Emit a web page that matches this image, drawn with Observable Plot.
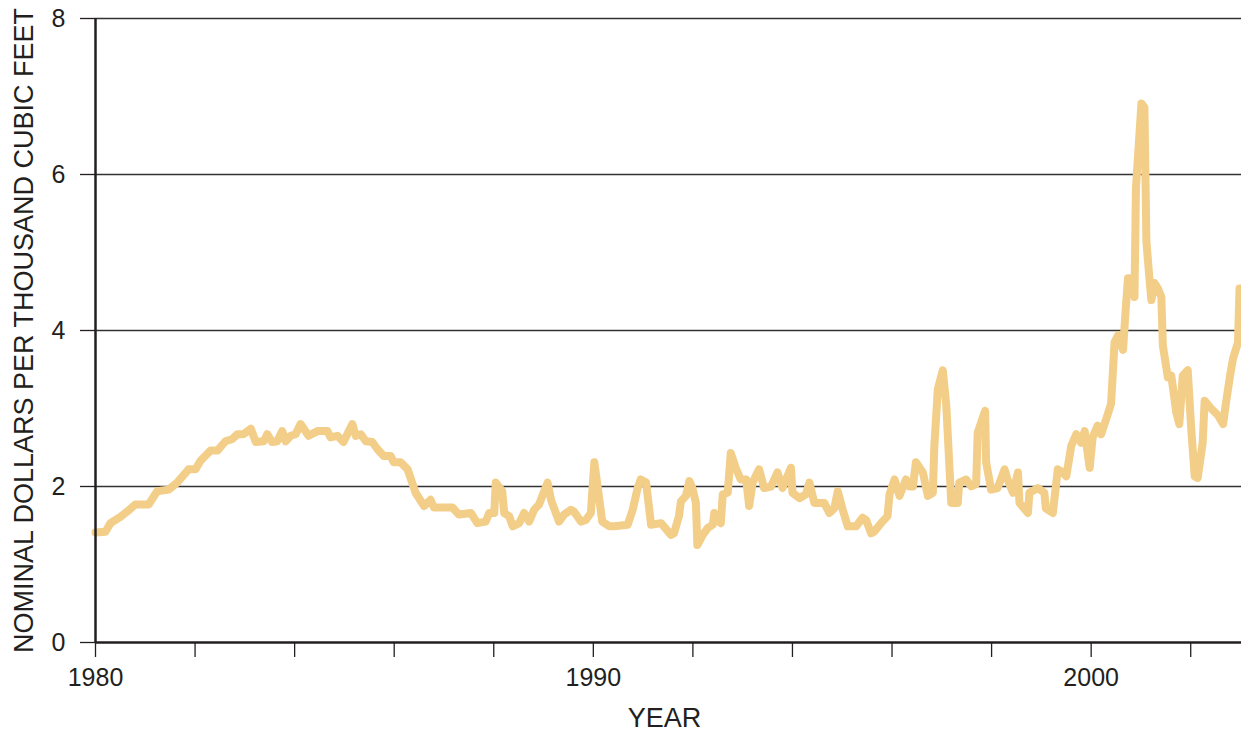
<!DOCTYPE html>
<html><head><meta charset="utf-8">
<script src="https://cdn.jsdelivr.net/npm/d3@7"></script>
<script src="https://cdn.jsdelivr.net/npm/@observablehq/plot@0.6"></script>
<style>html,body{margin:0;padding:0;background:#fff;} svg{display:block}</style>
</head><body><div id="chart"></div>
<script>
const years = [
1980.00,1980.20,1980.30,1980.50,1980.64,1980.80,1981.07,1981.24,1981.47,1981.64,1981.87,1982.01,1982.11,1982.31,1982.45,1982.61,1982.75,1982.85,1982.97,
1983.12,1983.22,1983.38,1983.45,1983.55,1983.65,1983.75,1983.82,1983.92,1984.02,1984.12,1984.28,1984.46,1984.66,1984.72,1984.86,1984.98,
1985.16,1985.23,1985.33,1985.43,1985.56,1985.66,1985.79,1985.93,1985.99,1986.13,1986.27,1986.43,1986.60,1986.73,1986.80,1987.17,1987.30,
1987.54,1987.67,1987.84,1987.91,1988.01,1988.04,1988.17,1988.21,1988.31,1988.38,1988.51,1988.61,1988.71,1988.81,1988.91,1989.08,1989.15,
1989.31,1989.41,1989.55,1989.61,1989.75,1989.85,1989.95,1990.02,1990.18,1990.32,1990.42,1990.69,1990.79,1990.89,1990.95,1991.06,1991.16,
1991.36,1991.56,1991.62,1991.72,1991.76,1991.86,1991.93,1991.99,1992.06,1992.09,1992.20,1992.30,1992.40,1992.43,1992.53,1992.56,1992.60,
1992.70,1992.76,1992.86,1992.96,1993.07,1993.13,1993.20,1993.33,1993.43,1993.57,1993.70,1993.80,1993.97,1994.00,1994.14,1994.27,1994.34,
1994.44,1994.64,1994.74,1994.84,1994.91,1995.01,1995.11,1995.28,1995.41,1995.48,1995.58,1995.64,1995.78,1995.91,1995.95,1996.05,1996.15,
1996.28,1996.35,1996.42,1996.48,1996.62,1996.72,1996.82,1996.85,1996.92,1997.02,1997.09,1997.19,1997.32,1997.35,1997.49,1997.59,1997.69,
1997.72,1997.79,1997.87,1997.89,1997.99,1998.12,1998.26,1998.32,1998.43,1998.53,1998.56,1998.73,1998.76,1998.93,1999.06,1999.09,1999.23,
1999.33,1999.43,1999.50,1999.60,1999.70,1999.80,1999.87,1999.97,2000.03,2000.13,2000.20,2000.30,2000.40,2000.47,2000.54,2000.64,2000.70,
2000.74,2000.80,2000.87,2000.90,2001.01,2001.07,2001.11,2001.17,2001.21,2001.27,2001.34,2001.41,2001.44,2001.54,2001.61,2001.71,2001.77,
2001.84,2001.94,2002.01,2002.08,2002.14,2002.24,2002.28,2002.41,2002.55,2002.65,2002.71,2002.79,2002.85,2002.95,2002.98
];
const prices = [
1.41,1.42,1.53,1.61,1.68,1.77,1.77,1.94,1.96,2.05,2.22,2.22,2.33,2.46,2.46,2.58,2.61,2.67,2.67,
2.74,2.57,2.58,2.67,2.57,2.58,2.71,2.58,2.65,2.67,2.80,2.65,2.71,2.71,2.63,2.65,2.57,
2.80,2.65,2.67,2.58,2.57,2.48,2.39,2.39,2.31,2.31,2.22,1.92,1.75,1.83,1.73,1.73,1.64,
1.66,1.53,1.55,1.66,1.66,2.05,1.94,1.66,1.62,1.49,1.53,1.66,1.55,1.70,1.77,2.05,1.83,
1.55,1.64,1.70,1.68,1.55,1.57,1.66,2.31,1.55,1.49,1.49,1.51,1.70,1.98,2.09,2.05,1.51,
1.53,1.38,1.40,1.62,1.81,1.88,2.07,1.98,1.79,1.25,1.38,1.47,1.51,1.66,1.55,1.53,1.90,
1.92,2.43,2.24,2.09,2.09,1.75,2.05,2.22,1.98,2.00,2.18,1.98,2.24,1.92,1.85,1.90,2.05,
1.79,1.79,1.66,1.72,1.94,1.70,1.49,1.49,1.60,1.57,1.40,1.42,1.53,1.62,1.90,2.09,1.88,
2.09,2.00,2.00,2.31,2.18,1.88,1.92,2.52,3.25,3.49,3.04,1.79,1.79,2.05,2.09,2.00,2.03,
2.69,2.82,2.97,2.31,1.96,1.98,2.22,2.09,1.92,2.18,1.79,1.66,1.92,1.98,1.92,1.72,1.66,
2.22,2.18,2.13,2.52,2.67,2.56,2.71,2.24,2.63,2.78,2.67,2.86,3.06,3.85,3.94,3.75,4.33,
4.67,4.67,4.43,5.83,6.91,6.86,5.14,4.67,4.39,4.61,4.54,4.43,3.81,3.40,3.42,2.95,2.80,
3.42,3.49,2.74,2.13,2.11,2.56,3.10,3.00,2.91,2.80,3.08,3.42,3.64,3.85,4.54
];
const yTicks = [0, 2, 4, 6, 8];
const gridValues = [2, 4, 6, 8];
const xTicks = [1980, 1982, 1984, 1986, 1988, 1990, 1992, 1994, 1996, 1998, 2000, 2002];
const labeledYears = [1980, 1990, 2000];
const xLabel = "YEAR";
const yLabel = "NOMINAL DOLLARS PER THOUSAND CUBIC FEET";

const data = years.map((t, i) => ({t, v: prices[i]}));
const ink = "#231f20";

const chart = Plot.plot({
  width: 1241, height: 736,
  marginLeft: 95, marginRight: 0, marginTop: 18, marginBottom: 94,
  style: {fontFamily: "'Liberation Sans', Arial, sans-serif", fontSize: "25px", color: ink, background: "#fff"},
  x: {domain: [1980, 2003.02]},
  y: {domain: [0, 8]},
  marks: [
    Plot.ruleY(gridValues, {stroke: "#333", strokeWidth: 1.3}),
    Plot.line(data, {x: "t", y: "v", stroke: "#f2ce89", strokeWidth: 8, strokeLinejoin: "round", strokeLinecap: "round"}),
    Plot.ruleY([0], {stroke: ink, strokeWidth: 2.5}),
    Plot.ruleX([1980], {stroke: ink, strokeWidth: 2.5}),
    Plot.axisY({ticks: yTicks, tickSize: 15, tickPadding: 15, tickFormat: d => String(d), label: null, fontSize: 25, strokeWidth: 1.3}),
    Plot.axisX({ticks: xTicks, tickSize: 15, tickPadding: 11, tickFormat: d => labeledYears.includes(d) ? String(d) : "", label: null, fontSize: 25, strokeWidth: 1.3}),
    Plot.text([yLabel], {text: d => d, frameAnchor: "left", textAnchor: "middle", rotate: -90, dx: -71, fontSize: 27, fill: ink}),
    Plot.text([xLabel], {text: d => d, frameAnchor: "bottom", textAnchor: "middle", dy: 84, dx: -4, fontSize: 27, fill: ink})
  ]
});
document.getElementById("chart").appendChild(chart);
</script>
</body></html>
